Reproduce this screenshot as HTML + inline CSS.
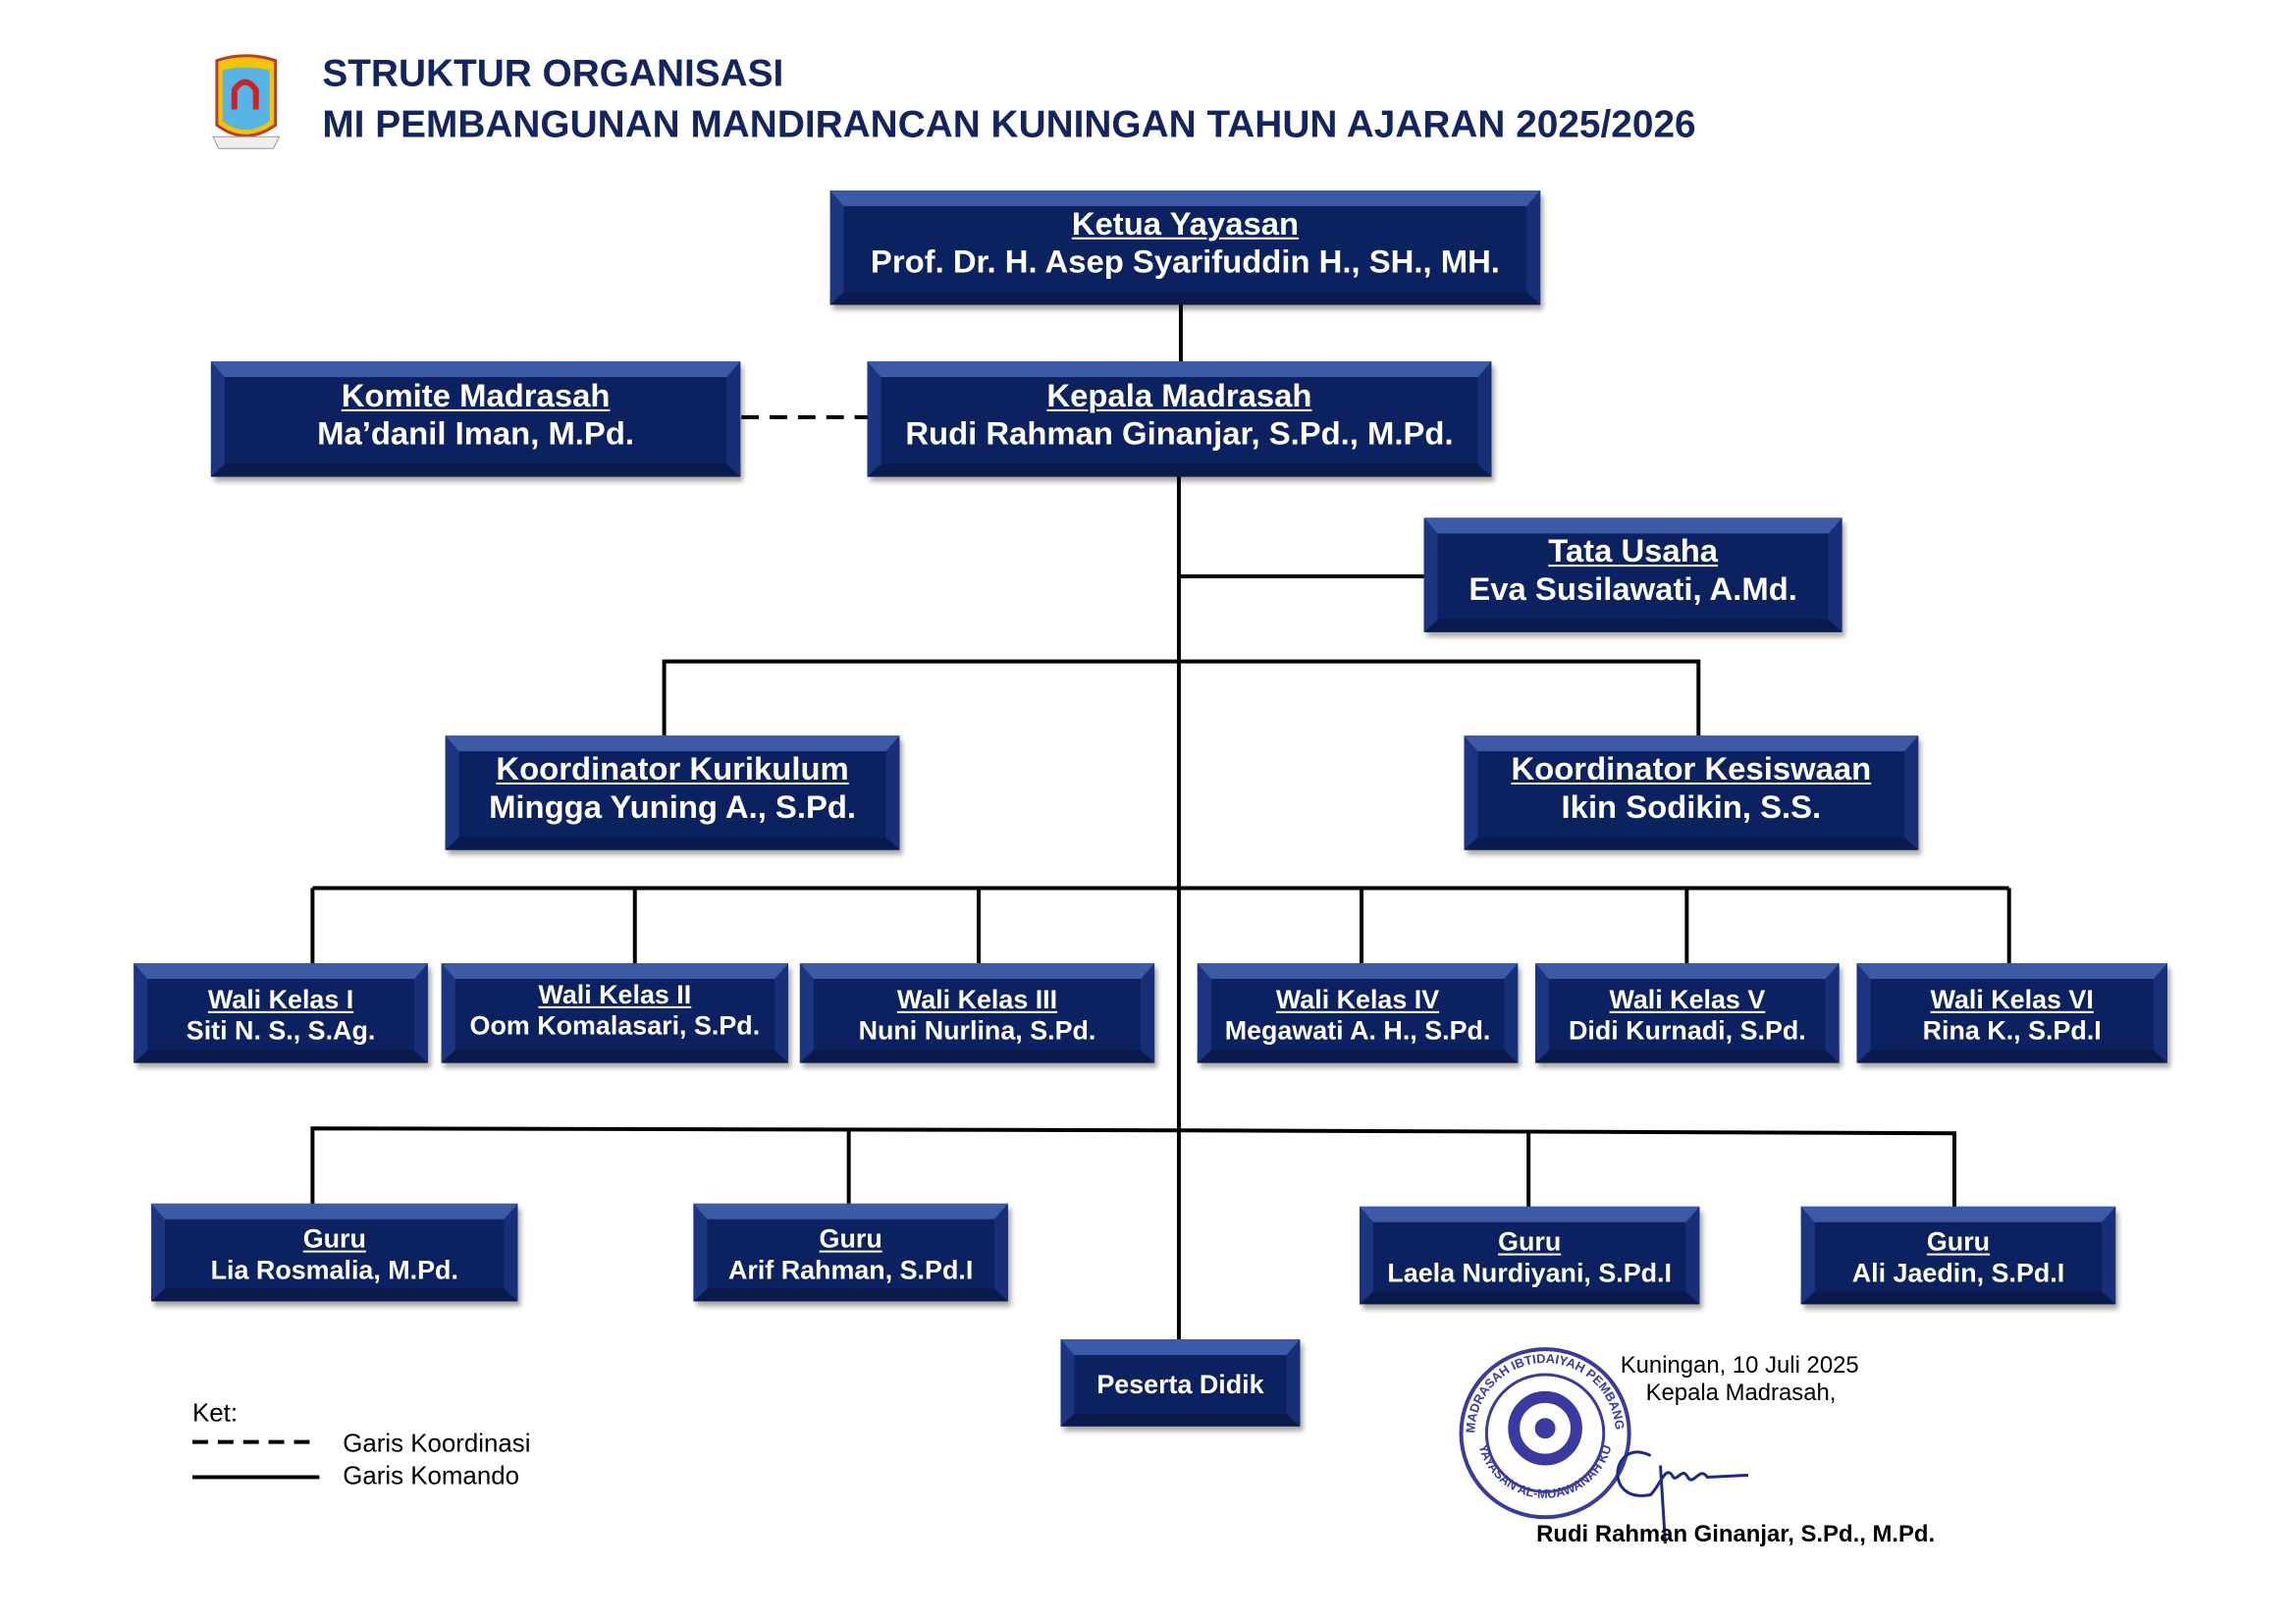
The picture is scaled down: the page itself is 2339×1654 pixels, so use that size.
<!DOCTYPE html>
<html><head><meta charset="utf-8">
<style>
body{margin:0;width:2339px;height:1654px;background:#fff;position:relative;overflow:hidden;font-family:"Liberation Sans",sans-serif}
#w{position:absolute;left:0;top:0;width:2339px;height:1654px;transform:scale(0.995);transform-origin:0 0}
.b{position:absolute;box-sizing:border-box;background:#0c215f;border-style:solid;border-width:16px 14px 13px 14px;border-color:#3c5aa6 #182f78 #0a1a4c #1c3580;box-shadow:3px 5px 5px rgba(0,0,0,.35);color:#fff;display:flex;flex-direction:column;justify-content:center;align-items:center;font-family:"Liberation Sans Narrow","Liberation Sans",sans-serif;font-weight:bold;white-space:nowrap;text-align:center}
.b u{text-decoration-thickness:2px;text-underline-offset:3px}
.L{font-size:33px;line-height:39px;padding-bottom:14px}
.S{font-size:27px;line-height:32px}
.t{position:absolute;white-space:nowrap}
</style></head><body><div id="w">
<svg style="position:absolute;left:0;top:0" width="2339" height="1654">
<g stroke="#000" stroke-width="4" fill="none">
<line x1="1209" y1="312" x2="1209" y2="370"/>
<line x1="1207" y1="488" x2="1207" y2="1371"/>
<line x1="759" y1="427" x2="888" y2="427" stroke-dasharray="18,11"/>
<line x1="1207" y1="590" x2="1458" y2="590"/>
<polyline points="680,753 680,677 1739,677 1739,753"/>
<line x1="320" y1="909" x2="2057" y2="909"/>
<line x1="320" y1="909" x2="320" y2="986"/><line x1="650" y1="909" x2="650" y2="986"/><line x1="1002" y1="909" x2="1002" y2="986"/><line x1="1394" y1="909" x2="1394" y2="986"/><line x1="1727" y1="909" x2="1727" y2="986"/><line x1="2057" y1="909" x2="2057" y2="986"/>
<polyline points="320,1232 320,1155 1207,1157 2001,1160 2001,1235"/>
<line x1="869" y1="1156" x2="869" y2="1232"/><line x1="1565" y1="1158" x2="1565" y2="1235"/>
<line x1="197" y1="1476" x2="327" y2="1476" stroke-dasharray="16,10"/>
<line x1="197" y1="1512" x2="327" y2="1512"/>
</g>
<g>
<path d="M222,62 Q251,52 282,62 L282,128 Q251,150 222,128 Z" fill="#f2c500" stroke="#c0392b" stroke-width="3"/>
<path d="M228,72 Q251,66 276,72 L276,124 Q251,142 228,124 Z" fill="#56b4e6"/>
<path d="M240,112 L240,92 Q251,76 262,92 L262,112" fill="none" stroke="#d02020" stroke-width="6"/>
<path d="M218,140 L286,140 L280,152 L224,152 Z" fill="#eee" stroke="#999"/>
</g>
<g fill="none" stroke="#3a3aa0">
<circle cx="1582" cy="1467" r="86" stroke-width="4"/>
<circle cx="1582" cy="1467" r="60" stroke-width="3"/>
<circle cx="1582" cy="1462" r="32" stroke-width="12"/>
<circle cx="1582" cy="1462" r="10" fill="#3a3aa0"/>
</g>
<defs><path id="arc" d="M1510,1467 A72,72 0 1,1 1654,1467"/><path id="arc2" d="M1514,1480 A70,70 0 0,0 1650,1480"/></defs>
<text font-size="13" font-weight="bold" fill="#3a3aa0" font-family="Liberation Sans"><textPath href="#arc">MADRASAH IBTIDAIYAH PEMBANGUNAN</textPath></text>
<text font-size="13" font-weight="bold" fill="#3a3aa0" font-family="Liberation Sans"><textPath href="#arc2">YAYASAN AL-MUAWANAH KUNINGAN</textPath></text>
<path d="M1690,1490 C1650,1470 1640,1540 1690,1530 C1700,1520 1705,1500 1712,1510 C1716,1520 1722,1500 1728,1512 C1734,1522 1740,1500 1748,1512 L1790,1510 M1700,1500 L1705,1580" fill="none" stroke="#1a2a8a" stroke-width="3"/>
</svg>

<div class="t" style="left:330px;top:54px;font-size:39px;font-weight:bold;color:#14245e">STRUKTUR ORGANISASI</div>
<div class="t" style="left:330px;top:106px;font-size:39px;font-weight:bold;color:#14245e">MI PEMBANGUNAN MANDIRANCAN KUNINGAN TAHUN AJARAN 2025/2026</div>

<div class="b L" style="left:850px;top:195px;width:727px;height:117px"><u>Ketua Yayasan</u><span>Prof. Dr. H. Asep Syarifuddin H., SH., MH.</span></div>
<div class="b L" style="left:888px;top:370px;width:639px;height:118px"><u>Kepala Madrasah</u><span>Rudi Rahman Ginanjar, S.Pd., M.Pd.</span></div>
<div class="b L" style="left:216px;top:370px;width:542px;height:118px"><u>Komite Madrasah</u><span>Ma’danil Iman, M.Pd.</span></div>
<div class="b L" style="left:1458px;top:530px;width:428px;height:117px"><u>Tata Usaha</u><span>Eva Susilawati, A.Md.</span></div>
<div class="b L" style="left:456px;top:753px;width:465px;height:117px"><u>Koordinator Kurikulum</u><span>Mingga Yuning A., S.Pd.</span></div>
<div class="b L" style="left:1499px;top:753px;width:465px;height:117px"><u>Koordinator Kesiswaan</u><span>Ikin Sodikin, S.S.</span></div>

<div class="b S" style="left:137px;top:986px;width:301px;height:102px"><u>Wali Kelas I</u><span>Siti N. S., S.Ag.</span></div>
<div class="b S" style="left:452px;top:986px;width:355px;height:102px;justify-content:flex-start"><u>Wali Kelas II</u><span>Oom Komalasari, S.Pd.</span></div>
<div class="b S" style="left:819px;top:986px;width:363px;height:102px"><u>Wali Kelas III</u><span>Nuni Nurlina, S.Pd.</span></div>
<div class="b S" style="left:1226px;top:986px;width:328px;height:102px"><u>Wali Kelas IV</u><span>Megawati A. H., S.Pd.</span></div>
<div class="b S" style="left:1572px;top:986px;width:311px;height:102px"><u>Wali Kelas V</u><span>Didi Kurnadi, S.Pd.</span></div>
<div class="b S" style="left:1901px;top:986px;width:318px;height:102px"><u>Wali Kelas VI</u><span>Rina K., S.Pd.I</span></div>

<div class="b S" style="left:155px;top:1232px;width:375px;height:100px"><u>Guru</u><span>Lia Rosmalia, M.Pd.</span></div>
<div class="b S" style="left:710px;top:1232px;width:322px;height:100px"><u>Guru</u><span>Arif Rahman, S.Pd.I</span></div>
<div class="b S" style="left:1392px;top:1235px;width:348px;height:100px"><u>Guru</u><span>Laela Nurdiyani, S.Pd.I</span></div>
<div class="b S" style="left:1844px;top:1235px;width:322px;height:100px"><u>Guru</u><span>Ali Jaedin, S.Pd.I</span></div>
<div class="b S" style="left:1086px;top:1371px;width:245px;height:89px">Peserta Didik</div>

<div class="t" style="left:197px;top:1431px;font-size:26px">Ket:</div>
<div class="t" style="left:351px;top:1462px;font-size:26px">Garis Koordinasi</div>
<div class="t" style="left:351px;top:1495px;font-size:26px">Garis Komando</div>

<div class="t" style="left:1659px;top:1384px;font-size:24px">Kuningan, 10 Juli 2025</div>
<div class="t" style="left:1685px;top:1412px;font-size:24px">Kepala Madrasah,</div>
<div class="t" style="left:1573px;top:1557px;font-size:24px;font-weight:bold">Rudi Rahman Ginanjar, S.Pd., M.Pd.</div>
</div></body></html>
